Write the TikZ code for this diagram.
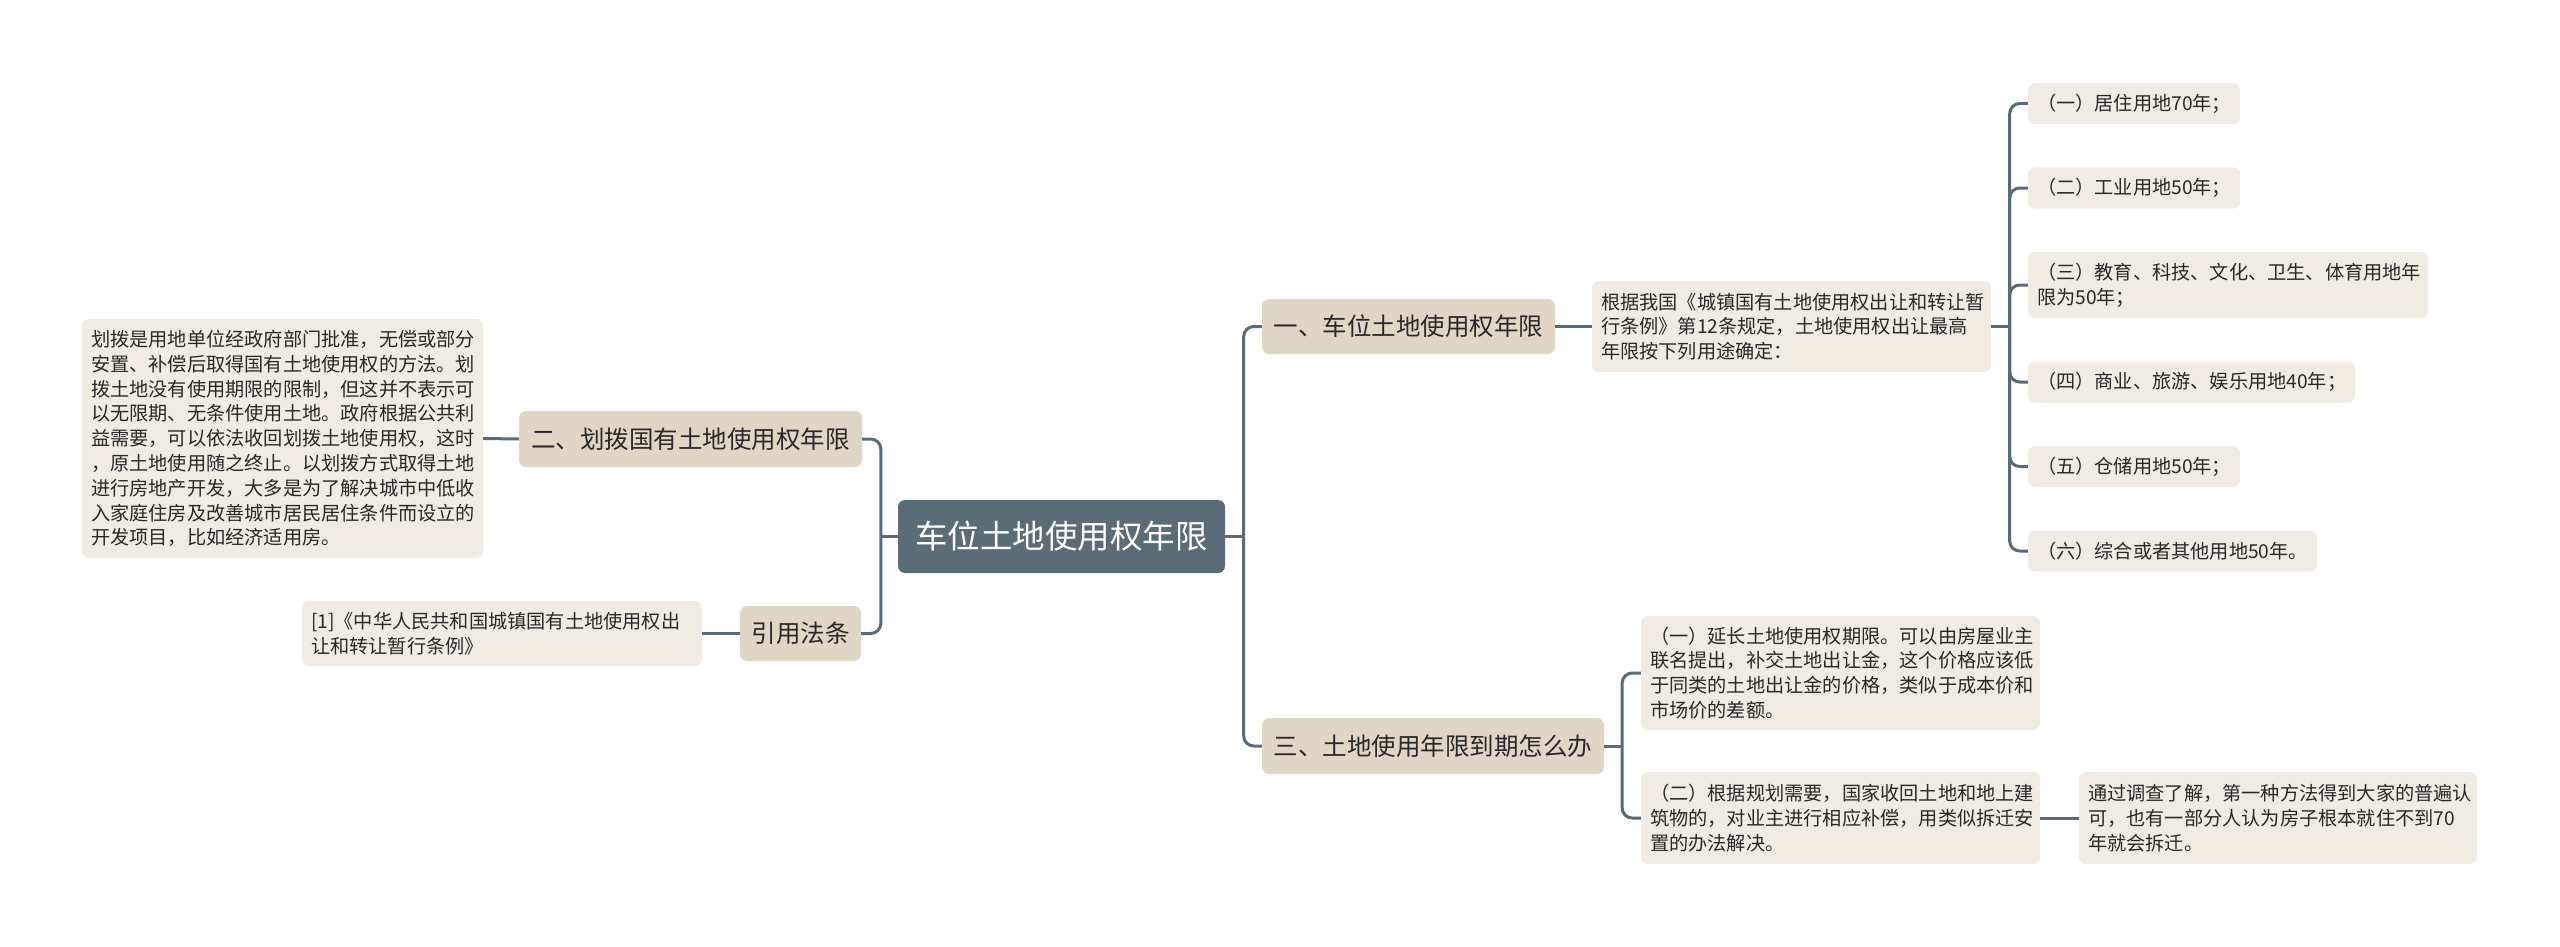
\documentclass[tikz,border=0pt]{standalone}
\usepackage{fontspec}
\setmainfont{Noto Sans CJK SC}
\usetikzlibrary{calc}
\definecolor{edge}{RGB}{90,107,120}
\definecolor{rootfill}{RGB}{91,108,121}
\definecolor{mainfill}{RGB}{224,214,198}
\definecolor{leaffill}{RGB}{240,236,228}
\definecolor{txt}{RGB}{40,40,40}
\begin{document}
\begin{tikzpicture}[x=1pt,y=-1pt,
  conn/.style={draw=edge,line width=3pt,rounded corners=10pt},
  rootbox/.style={fill=rootfill,rounded corners=7pt,text=white,font=\fontsize{32.5}{38}\selectfont,inner sep=0pt},
  mainbox/.style={fill=mainfill,rounded corners=7pt,text=txt,font=\fontsize{24.5}{29}\selectfont,inner sep=0pt},
  leafbox/.style={fill=leaffill,rounded corners=7pt,text=txt,font=\fontsize{19.2}{24.8}\selectfont,inner xsep=9pt,inner ysep=0pt,align=left},
]
\fill[white] (0,0) rectangle (2560,947);
\useasboundingbox (0,0) rectangle (2560,947);

% root
\node[rootbox,minimum width=327pt,minimum height=73pt] (c) at (1061.5,536.5) {车位土地使用权年限};

% main branches
\node[mainbox,minimum width=293pt,minimum height=55pt] (b1) at (1408.5,326.5) {一、车位土地使用权年限};
\node[mainbox,minimum width=342pt,minimum height=56pt] (b3) at (1433,746) {三、土地使用年限到期怎么办};
\node[mainbox,minimum width=343pt,minimum height=56pt] (b2) at (690.5,439) {二、划拨国有土地使用权年限};
\node[mainbox,minimum width=121pt,minimum height=55pt] (b4) at (800.5,633.5) {引用法条};

% right upper
\node[leafbox,text width=381pt,minimum height=91pt] (d1) at (1791.5,326.5) {根据我国《城镇国有土地使用权出让和转让暂\\行条例》第12条规定，土地使用权出让最高\\年限按下列用途确定：};
\node[leafbox,text width=194pt,minimum height=41pt] (l1) at (2134,103.5) {（一）居住用地70年；};
\node[leafbox,text width=194pt,minimum height=41pt] (l2) at (2134,188) {（二）工业用地50年；};
\node[leafbox,text width=382pt,minimum height=66pt] (l3) at (2228,285) {（三）教育、科技、文化、卫生、体育用地年\\限为50年；};
\node[leafbox,text width=309pt,minimum height=41pt] (l4) at (2191.5,382) {（四）商业、旅游、娱乐用地40年；};
\node[leafbox,text width=194pt,minimum height=41pt] (l5) at (2134,466.5) {（五）仓储用地50年；};
\node[leafbox,text width=271pt,minimum height=41pt] (l6) at (2172.5,551) {（六）综合或者其他用地50年。};

% right lower
\node[leafbox,text width=381pt,minimum height=114pt] (s1) at (1840.5,673) {（一）延长土地使用权期限。可以由房屋业主\\联名提出，补交土地出让金，这个价格应该低\\于同类的土地出让金的价格，类似于成本价和\\市场价的差额。};
\node[leafbox,text width=381pt,minimum height=92pt] (s2) at (1840.5,818) {（二）根据规划需要，国家收回土地和地上建\\筑物的，对业主进行相应补偿，用类似拆迁安\\置的办法解决。};
\node[leafbox,text width=380pt,minimum height=92pt] (s3) at (2278,818) {通过调查了解，第一种方法得到大家的普遍认\\可，也有一部分人认为房子根本就住不到70\\年就会拆迁。};

% left
\node[leafbox,text width=383pt,minimum height=239pt] (ld) at (282.5,438.5) {划拨是用地单位经政府部门批准，无偿或部分\\安置、补偿后取得国有土地使用权的方法。划\\拨土地没有使用期限的限制，但这并不表示可\\以无限期、无条件使用土地。政府根据公共利\\益需要，可以依法收回划拨土地使用权，这时\\，原土地使用随之终止。以划拨方式取得土地\\进行房地产开发，大多是为了解决城市中低收\\入家庭住房及改善城市居民居住条件而设立的\\开发项目，比如经济适用房。};
\node[leafbox,text width=382pt,minimum height=65pt] (ct) at (502,633.5) {[1]《中华人民共和国城镇国有土地使用权出\\让和转让暂行条例》};

% connectors
\coordinate (j1) at ($(c.east)+(18.5,0)$);
\draw[conn] (c.east) -- (j1);
\draw[conn] (j1) |- (b1.west);
\draw[conn] (j1) |- (b3.west);

\coordinate (j2) at ($(c.west)+(-17,0)$);
\draw[conn] (c.west) -- (j2);
\draw[conn] (j2) |- (b2.east);
\draw[conn] (j2) |- (b4.east);

\draw[conn] (b2.west) -- (ld.east);
\draw[conn] (b4.west) -- (ct.east);
\draw[conn] (b1.east) -- (d1.west);

\coordinate (j3) at ($(d1.east)+(18.5,0)$);
\draw[conn] (d1.east) -- (j3);
\foreach \n in {l1,l2,l3,l4,l5,l6} { \draw[conn] (j3) |- (\n.west); }

\coordinate (j4) at ($(b3.east)+(18,0)$);
\draw[conn] (b3.east) -- (j4);
\draw[conn] (j4) |- (s1.west);
\draw[conn] (j4) |- (s2.west);

\draw[conn] (s2.east) -- (s3.west);
\end{tikzpicture}
\end{document}
